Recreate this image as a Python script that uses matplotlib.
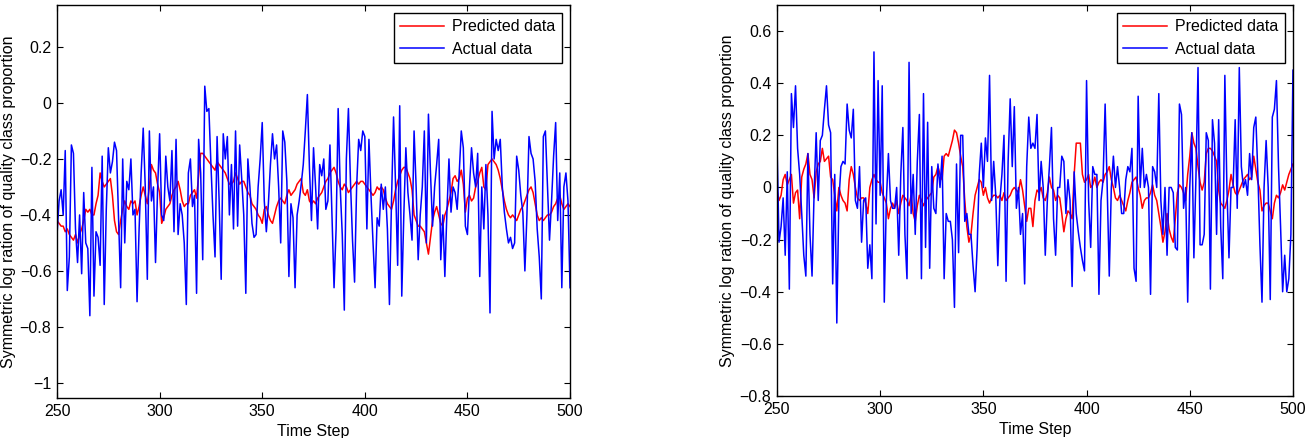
import numpy as np
import matplotlib
matplotlib.use("Agg")
import matplotlib.pyplot as plt

plt.rcParams['font.family'] = ['Liberation Sans', 'DejaVu Sans']

# time steps shared by both panels
steps = np.arange(250, 501)

# left panel: actual data
left_actual = [
    -0.47, -0.35, -0.31, -0.40, -0.17, -0.67, -0.55, -0.15, -0.18, -0.45,
    -0.57, -0.40, -0.61, -0.32, -0.50, -0.52, -0.76, -0.23, -0.69, -0.46,
    -0.48, -0.58, -0.19, -0.72, -0.38, -0.16, -0.25, -0.21, -0.14, -0.17,
    -0.42, -0.66, -0.20, -0.50, -0.28, -0.31, -0.20, -0.40, -0.38, -0.71,
    -0.45, -0.25, -0.09, -0.30, -0.63, -0.10, -0.35, -0.30, -0.57, -0.31,
    -0.11, -0.40, -0.42, -0.19, -0.30, -0.35, -0.17, -0.46, -0.13, -0.47,
    -0.36, -0.40, -0.50, -0.72, -0.25, -0.20, -0.37, -0.33, -0.68, -0.13,
    -0.25, -0.56, 0.06, -0.03, -0.02, -0.22, -0.40, -0.55, -0.12, -0.35,
    -0.63, -0.11, -0.20, -0.12, -0.40, -0.22, -0.45, -0.10, -0.44, -0.15,
    -0.27, -0.40, -0.68, -0.20, -0.30, -0.43, -0.48, -0.47, -0.30, -0.20,
    -0.07, -0.35, -0.46, -0.36, -0.22, -0.11, -0.20, -0.15, -0.30, -0.50,
    -0.10, -0.14, -0.28, -0.62, -0.36, -0.41, -0.66, -0.40, -0.35, -0.29,
    -0.22, -0.10, 0.03, -0.23, -0.42, -0.16, -0.30, -0.45, -0.22, -0.26,
    -0.20, -0.38, -0.35, -0.15, -0.40, -0.66, -0.45, -0.02, -0.30, -0.47,
    -0.74, -0.20, -0.02, -0.28, -0.49, -0.64, -0.30, -0.13, -0.17, -0.10,
    -0.12, -0.45, -0.13, -0.33, -0.50, -0.66, -0.41, -0.44, -0.29, -0.38,
    -0.30, -0.45, -0.72, -0.35, -0.05, -0.30, -0.58, -0.01, -0.69, -0.40,
    -0.16, -0.32, -0.40, -0.49, -0.10, -0.30, -0.56, -0.40, -0.30, -0.10,
    -0.50, -0.04, -0.25, -0.44, -0.30, -0.22, -0.13, -0.56, -0.40, -0.62,
    -0.39, -0.20, -0.39, -0.30, -0.32, -0.38, -0.25, -0.10, -0.16, -0.44,
    -0.47, -0.30, -0.16, -0.25, -0.30, -0.18, -0.62, -0.30, -0.45, -0.22,
    -0.40, -0.75, -0.03, -0.20, -0.13, -0.17, -0.13, -0.30, -0.39, -0.45,
    -0.50, -0.48, -0.52, -0.50, -0.19, -0.24, -0.33, -0.39, -0.60, -0.40,
    -0.12, -0.18, -0.20, -0.28, -0.45, -0.55, -0.70, -0.12, -0.10, -0.30,
    -0.49, -0.35, -0.19, -0.07, -0.42, -0.25, -0.66, -0.30, -0.25, -0.35,
    -0.66,
]

# left panel: predicted data
left_pred = [
    -0.42, -0.43, -0.44, -0.44, -0.46, -0.45, -0.47, -0.48, -0.49, -0.47,
    -0.50, -0.47, -0.45, -0.42, -0.38, -0.39, -0.38, -0.40, -0.40, -0.36,
    -0.33, -0.25, -0.28, -0.30, -0.29, -0.28, -0.27, -0.33, -0.42, -0.46,
    -0.47, -0.42, -0.38, -0.35, -0.37, -0.38, -0.35, -0.36, -0.35, -0.40,
    -0.37, -0.33, -0.30, -0.33, -0.36, -0.30, -0.22, -0.24, -0.25, -0.29,
    -0.32, -0.43, -0.41, -0.38, -0.37, -0.36, -0.33, -0.31, -0.30, -0.28,
    -0.31, -0.35, -0.37, -0.36, -0.36, -0.33, -0.32, -0.31, -0.34, -0.26,
    -0.18, -0.18, -0.19, -0.20, -0.21, -0.22, -0.23, -0.24, -0.21, -0.22,
    -0.23, -0.24, -0.25, -0.27, -0.29, -0.29, -0.28, -0.25, -0.27, -0.29,
    -0.28, -0.28, -0.30, -0.32, -0.33, -0.36, -0.37, -0.38, -0.40, -0.41,
    -0.43, -0.38, -0.37, -0.40, -0.42, -0.43, -0.40, -0.37, -0.35, -0.34,
    -0.35, -0.36, -0.33, -0.31, -0.33, -0.32, -0.31, -0.29, -0.28, -0.27,
    -0.32, -0.33, -0.31, -0.35, -0.36, -0.35, -0.36, -0.34, -0.33, -0.32,
    -0.30, -0.28, -0.27, -0.25, -0.24, -0.23, -0.25, -0.28, -0.30, -0.31,
    -0.29, -0.30, -0.32, -0.31, -0.30, -0.29, -0.28, -0.29, -0.28, -0.28,
    -0.29, -0.30, -0.31, -0.32, -0.33, -0.32, -0.30, -0.31, -0.30, -0.31,
    -0.34, -0.36, -0.37, -0.38, -0.35, -0.31, -0.28, -0.26, -0.24, -0.23,
    -0.23, -0.25, -0.27, -0.31, -0.40, -0.42, -0.44, -0.44, -0.45, -0.46,
    -0.50, -0.54, -0.48, -0.42, -0.39, -0.37, -0.40, -0.43, -0.44, -0.40,
    -0.38, -0.35, -0.32, -0.27, -0.26, -0.28, -0.27, -0.24, -0.29, -0.39,
    -0.34, -0.33, -0.35, -0.34, -0.30, -0.28, -0.25, -0.23, -0.30, -0.31,
    -0.22, -0.21, -0.20, -0.21, -0.22, -0.24, -0.27, -0.31, -0.35, -0.38,
    -0.40, -0.41, -0.40, -0.41, -0.42, -0.40, -0.38, -0.37, -0.35, -0.33,
    -0.31, -0.30, -0.32, -0.36, -0.40, -0.42, -0.41, -0.42, -0.41, -0.40,
    -0.40, -0.39, -0.37, -0.36, -0.34, -0.33, -0.36, -0.38, -0.37, -0.36,
    -0.37,
]

# right panel: actual data
right_actual = [
    0.18, -0.21, -0.15, -0.04, -0.26, 0.06, -0.39, 0.36, 0.23, 0.39,
    0.15, 0.05, -0.10, -0.26, -0.34, 0.13, -0.18, -0.34, -0.02, 0.21,
    -0.05, 0.18, 0.20, 0.30, 0.39, 0.24, 0.21, -0.37, 0.05, -0.52,
    -0.05, 0.08, 0.10, 0.09, 0.32, 0.22, 0.19, 0.30, -0.05, -0.08,
    0.08, -0.21, -0.05, -0.04, -0.31, -0.22, -0.35, 0.52, -0.14, 0.41,
    -0.03, 0.39, -0.44, -0.05, 0.13, -0.05, -0.08, -0.08, 0.00, -0.26,
    0.05, 0.23, -0.18, -0.35, 0.48, -0.10, 0.05, -0.18, 0.10, 0.28,
    -0.35, 0.36, -0.23, 0.25, -0.31, 0.08, -0.08, -0.10, 0.09, 0.00,
    0.12, -0.35, -0.10, -0.13, -0.13, -0.20, -0.46, 0.09, -0.25, 0.20,
    0.20, -0.13, -0.10, -0.18, -0.18, -0.30, -0.40, -0.23, 0.05, 0.17,
    0.00, 0.19, 0.10, 0.43, -0.05, 0.10, -0.03, -0.30, -0.05, 0.05,
    0.20, -0.36, 0.10, 0.34, 0.08, 0.31, -0.08, 0.00, -0.18, -0.10,
    -0.37, 0.08, 0.27, 0.15, 0.17, 0.15, 0.28, -0.05, 0.10, 0.00,
    -0.26, -0.05, 0.08, 0.23, -0.12, -0.26, 0.00, 0.00, 0.12, 0.10,
    -0.10, 0.03, -0.05, -0.38, 0.06, -0.10, -0.17, -0.23, -0.28, -0.32,
    0.41, -0.05, -0.23, 0.08, 0.05, 0.05, -0.41, -0.05, 0.03, 0.32,
    0.00, -0.34, 0.00, 0.12, 0.00, 0.08, 0.00, -0.10, -0.10, 0.03,
    0.08, 0.06, 0.15, -0.31, -0.36, 0.35, 0.00, 0.15, 0.00, 0.05,
    0.00, -0.41, 0.08, 0.06, 0.00, 0.36, -0.05, -0.18, 0.00, -0.26,
    0.00, 0.00, -0.02, -0.23, -0.24, 0.32, 0.28, -0.08, 0.00, -0.44,
    0.00, 0.21, -0.27, 0.04, 0.46, -0.22, -0.22, -0.18, 0.21, 0.18,
    -0.39, 0.26, 0.17, -0.18, 0.26, -0.15, -0.35, 0.43, 0.00, -0.27,
    0.00, 0.00, 0.26, -0.08, 0.46, 0.08, 0.00, 0.03, -0.03, 0.13,
    0.03, 0.23, 0.27, 0.05, -0.22, -0.44, 0.00, 0.18, 0.00, -0.43,
    0.27, 0.30, 0.41, 0.08, -0.15, -0.40, -0.26, -0.40, -0.35, -0.18,
    0.45,
]

# right panel: predicted data
right_pred = [
    -0.01, -0.05, -0.03, 0.03, 0.05, 0.01, 0.03, 0.05, -0.06, -0.02,
    -0.01, -0.12, 0.04, 0.07, 0.09, 0.13, 0.05, 0.03, -0.04, 0.06,
    0.09, 0.10, 0.15, 0.10, 0.11, 0.12, 0.04, 0.03, -0.03, -0.09,
    0.00, -0.03, -0.05, -0.06, -0.09, 0.03, 0.08, 0.05, 0.00, -0.04,
    -0.05, -0.04, -0.04, -0.06, -0.10, 0.00, 0.03, 0.05, 0.03, 0.02,
    0.02, -0.02, -0.04, -0.06, -0.12, -0.08, -0.06, -0.08, -0.05, -0.10,
    -0.06, -0.03, -0.04, -0.05, -0.07, -0.03, -0.10, -0.13, -0.07, -0.03,
    -0.05, -0.07, -0.05, -0.04, -0.03, -0.02, 0.04, 0.05, 0.08, 0.05,
    0.03, 0.12, 0.13, 0.12, 0.15, 0.18, 0.22, 0.21, 0.17, 0.12,
    0.08, -0.05, -0.15, -0.21, -0.18, -0.10, -0.03, 0.00, 0.03, 0.02,
    -0.03, 0.00, -0.04, -0.06, -0.04, -0.03, -0.03, -0.04, -0.03, -0.05,
    -0.02, -0.05, -0.04, -0.03, -0.01, 0.00, -0.01, -0.02, 0.03, -0.01,
    -0.07, -0.13, -0.08, -0.08, -0.15, -0.05, -0.01, -0.02, 0.00, -0.04,
    -0.05, -0.02, 0.04, 0.00, -0.01, -0.05, -0.03, -0.04, -0.10, -0.17,
    -0.12, -0.09, -0.10, -0.12, 0.05, 0.17, 0.17, 0.17, 0.05, 0.02,
    0.03, 0.05, 0.00, 0.01, 0.04, 0.00, 0.02, 0.03, 0.02, 0.05,
    0.06, 0.08, 0.03, 0.00, -0.04, -0.05, -0.03, -0.05, -0.07, -0.09,
    -0.05, -0.02, 0.02, 0.03, 0.04, 0.00, -0.03, -0.08, -0.05, -0.04,
    -0.04, -0.02, 0.01, -0.03, -0.05, -0.10, -0.15, -0.21, -0.17, -0.10,
    -0.16, -0.19, -0.21, -0.12, -0.02, 0.01, 0.00, -0.02, -0.05, 0.05,
    0.12, 0.21, 0.17, 0.15, 0.08, 0.02, -0.01, 0.02, 0.13, 0.15,
    0.15, 0.14, 0.12, 0.10, -0.01, -0.06, -0.07, -0.08, -0.05, -0.01,
    0.05, 0.01, -0.02, -0.03, -0.01, 0.01, 0.03, 0.04, 0.05, 0.03,
    0.04, 0.12, 0.07, 0.02, -0.01, -0.09, -0.07, -0.06, -0.06, -0.09,
    -0.12, -0.06, -0.03, -0.04, -0.02, 0.01, -0.01, 0.02, 0.05, 0.07,
    0.09,
]

x_ticks = [250, 300, 350, 400, 450, 500]
left_yticks = [-1, -0.8, -0.6, -0.4, -0.2, 0, 0.2]
right_yticks = [-0.8, -0.6, -0.4, -0.2, 0, 0.2, 0.4, 0.6]

ylabel = "Symmetric log ration of quality class proportion"
fs = 11.5

fig = plt.figure(figsize=(13.08, 4.38), dpi=100)
ax1 = fig.add_axes([0.0436, 0.0913, 0.3922, 0.8973])
ax2 = fig.add_axes([0.594, 0.0959, 0.3945, 0.8927])

panels = [
    (ax1, left_pred, left_actual, left_yticks, (-1.054, 0.35)),
    (ax2, right_pred, right_actual, right_yticks, (-0.8, 0.7)),
]

for ax, pred, actual, yticks, ylim in panels:
    ax.plot(steps, pred, color='#ff0000', lw=1.1, label='Predicted data')
    ax.plot(steps, actual, color='#0000ff', lw=1.1, label='Actual data')
    ax.set_xlim(250, 500)
    ax.set_ylim(*ylim)
    ax.set_xticks(x_ticks)
    ax.set_yticks(yticks)
    ax.set_yticklabels([("%g" % t).replace('-', '\u2212') for t in yticks])
    ax.tick_params(direction='in', top=True, right=True, length=4,
                   width=0.8, labelsize=fs, pad=4)
    for sp in ax.spines.values():
        sp.set_linewidth(1.0)
    ax.set_xlabel("Time Step", fontsize=fs, labelpad=4)
    ax.set_ylabel(ylabel, fontsize=fs, labelpad=3)
    leg = ax.legend(loc='upper right', fontsize=fs, fancybox=False,
                    edgecolor='black', framealpha=1, handlelength=2.7,
                    borderaxespad=0.5, borderpad=0.4, labelspacing=0.45,
                    handletextpad=0.55)
    leg.get_frame().set_linewidth(1.0)

fig.savefig("out.png", dpi=100)
